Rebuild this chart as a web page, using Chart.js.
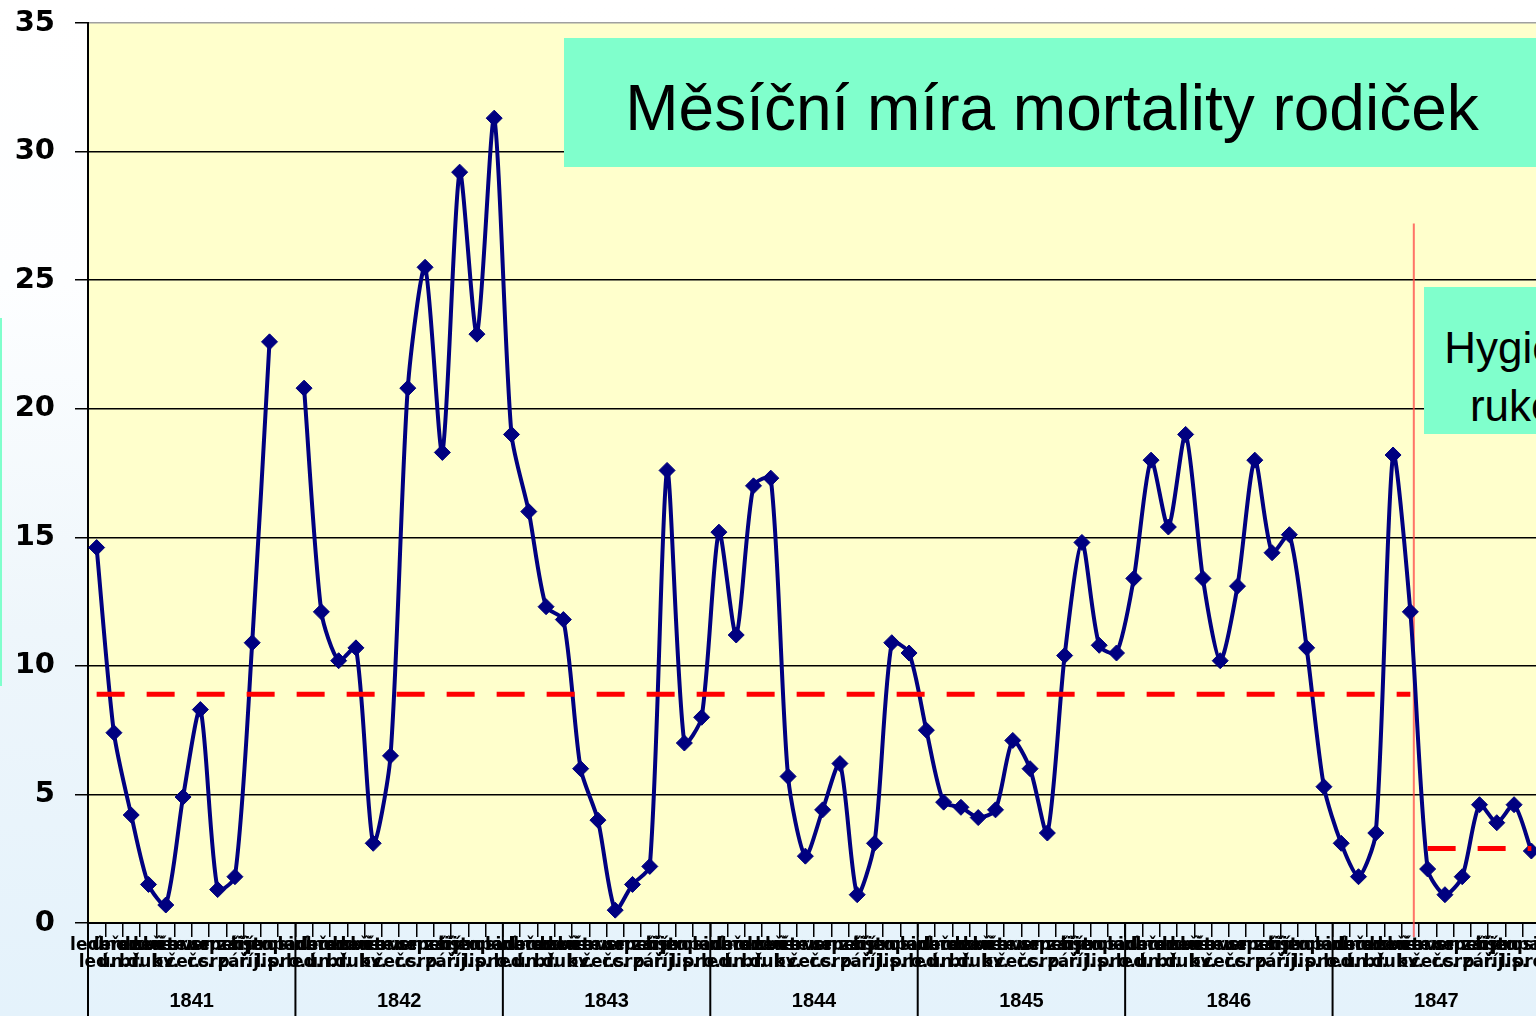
<!DOCTYPE html>
<html lang="cs">
<head>
<meta charset="utf-8">
<title>Měsíční míra mortality rodiček</title>
<script src="https://cdn.jsdelivr.net/npm/chart.js@4.4.1/dist/chart.umd.min.js"></script>
<style>
html, body { margin: 0; padding: 0; width: 1536px; height: 1016px; overflow: hidden; }
body {
  position: relative;
  background: linear-gradient(to bottom, #ffffff 0%, #fdfeff 28%, #eef6fb 62%, #e4f2fb 100%);
  font-family: "Liberation Sans", Arial, sans-serif;
}
#wrap { position: absolute; left: 0; top: 0; width: 1560px; height: 1016px; }
.box { position: absolute; background: #80ffcc; color: #000; text-align: center; white-space: nowrap; }
#title { left: 564px; top: 38px; width: 976px; height: 129px; font-size: 64px; line-height: 129px; }
#title span { position: relative; top: 6px; }
#hyg { left: 1424px; top: 287px; width: 202px; height: 147px; font-size: 44px; line-height: 58px;
       padding-top: 32px; box-sizing: border-box; }
#strip { position: absolute; left: 0; top: 318px; width: 2px; height: 368px; background: #80ffcc; }
</style>
</head>
<body>
<div id="strip"></div>
<div id="wrap"><canvas id="myChart" width="1560" height="1016"></canvas></div>
<div class="box" id="title"><span>Měsíční míra mortality rodiček</span></div>
<div class="box" id="hyg">Hygiena<br>rukou</div>
<script>
// roky a měsíce
var years = ["1841", "1842", "1843", "1844", "1845", "1846", "1847"];
var monthNames = [["leden", "led."], ["únor", "ún."], ["březen", "bř."], ["duben", "dub."], ["květen", "kv."], ["červen", "čer."],
                  ["červenec", "čc."], ["srpen", "srp."], ["září", "zář."], ["říjen", "říj."], ["listopad", "lis."], ["prosinec", "pro."]];

// úmrtnost v % po měsících
var rates1841 = [14.6, 7.4, 4.2, 1.5, 0.7, 4.9, 8.3, 1.3, 1.8, 10.9, 22.6, null];
var rates1842 = [20.8, 12.1, 10.2, 10.7, 3.1, 6.5, 20.8, 25.5, 18.3, 29.2, 22.9, 31.3];
var rates1843 = [19.0, 16.0, 12.3, 11.8, 6.0, 4.0, 0.5, 1.5, 2.2, 17.6, 7.0, 8.0];
var rates1844 = [15.2, 11.2, 17.0, 17.3, 5.7, 2.6, 4.4, 6.2, 1.1, 3.1, 10.9, 10.5];
var rates1845 = [7.5, 4.7, 4.5, 4.1, 4.4, 7.1, 6.0, 3.5, 10.4, 14.8, 10.8, 10.5];
var rates1846 = [13.4, 18.0, 15.4, 19.0, 13.4, 10.2, 13.1, 18.0, 14.4, 15.1, 10.7, 5.3];
var rates1847 = [3.1, 1.8, 3.5, 18.2, 12.1, 2.1, 1.1, 1.8, 4.6, 3.9, 4.6, 2.8];

// průměry před a po zavedení hygieny (květen 1847)
var meanBefore = 8.9;
var meanAfter = 2.9;
var lastMonthBefore = 76;
var handwashAt = 76.2;
var handwashTop = 27.2;

var rates = [].concat(rates1841, rates1842, rates1843, rates1844, rates1845, rates1846, rates1847);
var monthLabels = [];
years.forEach(function () { monthNames.forEach(function (m) { monthLabels.push(m); }); });

var meanLine1 = rates.map(function (v, i) { return i <= lastMonthBefore ? meanBefore : null; });
var meanLine2 = rates.map(function (v, i) { return i > lastMonthBefore ? meanAfter : null; });

var decor = {
  id: "decor",
  beforeDraw: function (chart) {
    var a = chart.chartArea, c = chart.ctx;
    c.save();
    c.fillStyle = "#ffffcc";
    c.fillRect(a.left, a.top, a.right - a.left, a.bottom - a.top);
    c.restore();
  },
  beforeDatasetsDraw: function (chart) {
    var a = chart.chartArea, c = chart.ctx;
    var xs = chart.scales.x, ys = chart.scales.y;
    var w = xs.getPixelForValue(1) - xs.getPixelForValue(0);
    var px = xs.getPixelForValue(Math.floor(handwashAt)) + (handwashAt - Math.floor(handwashAt)) * w;
    c.save();
    c.strokeStyle = "rgba(255,70,70,0.75)";
    c.lineWidth = 2;
    c.beginPath();
    c.moveTo(px, ys.getPixelForValue(handwashTop));
    c.lineTo(px, a.bottom + 14);
    c.stroke();
    c.restore();
  },
  afterDraw: function (chart) {
    var a = chart.chartArea, c = chart.ctx, xs = chart.scales.x;
    var w = xs.getPixelForValue(1) - xs.getPixelForValue(0);
    c.save();
    c.strokeStyle = "#000";
    c.lineWidth = 2;
    for (var k = 0; k <= years.length; k++) {
      var px = xs.getPixelForValue(0) - w / 2 + k * 12 * w;
      c.beginPath();
      c.moveTo(px, a.bottom);
      c.lineTo(px, chart.height);
      c.stroke();
    }
    c.restore();
  }
};

new Chart("myChart", {
  type: "line",
  data: {
    labels: monthLabels,
    datasets: [{
      data: meanLine1,
      borderColor: "#ff0000",
      borderWidth: 5,
      borderDash: [28, 22],
      borderCapStyle: "butt",
      pointRadius: 0,
      tension: 0
    }, {
      data: meanLine2,
      borderColor: "#ff0000",
      borderWidth: 5,
      borderDash: [28, 22],
      borderCapStyle: "butt",
      pointRadius: 0,
      tension: 0
    }, {
      data: rates,
      borderColor: "#000080",
      backgroundColor: "#000080",
      borderWidth: 4,
      tension: 0.25,
      pointStyle: "rectRot",
      pointRadius: 8,
      pointBorderWidth: 1,
      spanGaps: false
    }]
  },
  options: {
    responsive: false,
    animation: false,
    devicePixelRatio: 1,
    layout: { padding: { top: 23, right: 20, left: 0, bottom: 0 } },
    plugins: { legend: { display: false }, tooltip: { enabled: false } },
    scales: {
      x: {
        type: "category",
        offset: true,
        grid: { display: true, drawOnChartArea: false, offset: true, tickLength: 14, color: "#000", lineWidth: 1.5 },
        border: { display: true, color: "#000", width: 2 },
        ticks: {
          autoSkip: false, maxRotation: 0, minRotation: 0, padding: 0, color: "#000",
          font: { family: "DejaVu Sans", weight: "bold", size: 17, lineHeight: 1.0 }
        },
        afterFit: function (s) { s.height = 52; s.paddingLeft = 0; s.paddingRight = 0; }
      },
      x2: {
        type: "category",
        labels: years,
        position: "bottom",
        offset: true,
        grid: { display: false, drawTicks: false, tickLength: 0 },
        border: { display: false },
        ticks: { padding: 14, color: "#000", font: { family: "Liberation Sans", weight: "bold", size: 20 } },
        afterFit: function (s) { s.height = 41; s.paddingLeft = 0; s.paddingRight = 0; }
      },
      y: {
        min: 0,
        max: 35,
        ticks: { stepSize: 5, padding: 20, color: "#000", font: { family: "DejaVu Sans", weight: "bold", size: 29 } },
        grid: {
          color: function (c) { return c.tick && c.tick.value === 35 ? "#a0a0a0" : "#000"; },
          lineWidth: 1.5, tickLength: 13, tickColor: "#000"
        },
        border: { color: "#000", width: 2 },
        afterFit: function (s) { s.width = 88; s.paddingTop = 0; s.paddingBottom = 0; }
      }
    }
  },
  plugins: [decor]
});
</script>
</body>
</html>
